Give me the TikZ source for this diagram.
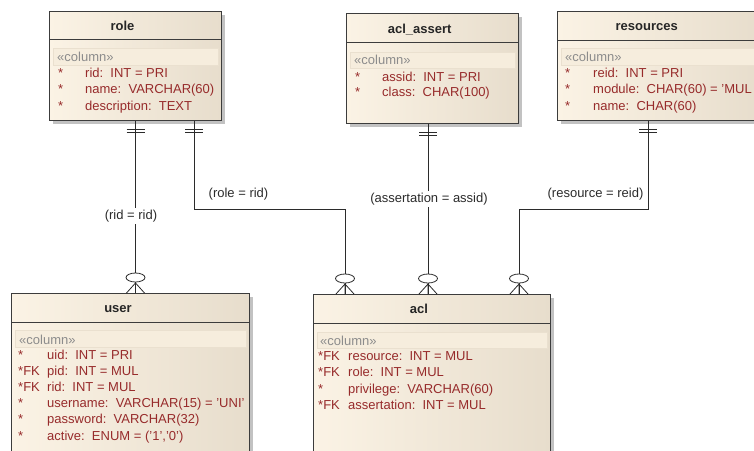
\documentclass[tikz,border=0pt]{standalone}
\usepackage{fontspec}
\setmainfont{Liberation Sans}
\usetikzlibrary{shadows}
\definecolor{boxline}{HTML}{3C3C3C}
\definecolor{creamL}{HTML}{FBF3E5}
\definecolor{creamR}{HTML}{E7DDCC}
\definecolor{bandfill}{HTML}{F6EDDD}
\definecolor{bandline}{HTML}{EAE0CF}
\definecolor{shadowgray}{HTML}{C2C2C2}
\definecolor{fieldred}{HTML}{972B2B}
\definecolor{stereoink}{HTML}{8C8C8C}
\definecolor{titleink}{HTML}{262626}
\definecolor{linkink}{HTML}{2B2B2B}
\begin{document}
\begin{tikzpicture}[x=1pt,y=-1pt,
  erbox/.style={draw=boxline,line width=0.9pt,left color=creamL,right color=creamR,
    anchor=north west,inner sep=0pt,
    drop shadow={shadow xshift=3.5pt,shadow yshift=-3.5pt,fill=shadowgray,opacity=1}},
  sepline/.style={draw=boxline,line width=0.9pt},
  band/.style={fill=bandfill,draw=bandline,line width=0.4pt},
  title/.style={font=\fontsize{13}{15}\selectfont\bfseries,text=titleink,inner sep=0pt,anchor=base},
  stereo/.style={font=\fontsize{13}{15}\selectfont,text=stereoink,anchor=base west,inner sep=0pt},
  field/.style={font=\fontsize{13}{15}\selectfont,text=fieldred,anchor=base west,inner sep=0pt},
  conn/.style={draw=linkink,line width=0.8pt},
  rel/.style={font=\fontsize{13}{15}\selectfont,text=linkink,inner sep=1.5pt},
  erone/.pic={\draw[conn] (-9,8)--(9,8) (-9,11)--(9,11);},
  ermany/.pic={\draw[conn] (0,-10)--(-9,0) (0,-10)--(9,0) (0,-12)--(0,0);
    \filldraw[conn,fill=white] (0,-15.5) ellipse[x radius=9.5pt,y radius=4.5pt];}
]
\useasboundingbox (0,0) rectangle (754,450);
\clip (0,0) rectangle (754,450);

% ---- tables ----
\node[erbox,minimum width=172pt,minimum height=109pt] (role) at (49,11) {};
\node[erbox,minimum width=172pt,minimum height=110pt] (assert) at (346,13) {};
\node[erbox,minimum width=204pt,minimum height=109pt] (resources) at (557,11) {};
\node[erbox,minimum width=238pt,minimum height=190pt] (user) at (11,293) {};
\node[erbox,minimum width=237pt,minimum height=190pt] (acl) at (313,294) {};

% header separators and stereotype bands
\draw[sepline] (role.north west) ++(0,28) -- ++(172,0);
\filldraw[band] (role.north west) ++(4,37) rectangle ++(165,17);
\draw[sepline] (assert.north west) ++(0,29) -- ++(172,0);
\filldraw[band] (assert.north west) ++(4,39) rectangle ++(165,16);
\draw[sepline] (resources.north west) ++(0,29) -- ++(204,0);
\filldraw[band] (resources.north west) ++(4,37) rectangle ++(197,17);
\draw[sepline] (user.north west) ++(0,29) -- ++(238,0);
\filldraw[band] (user.north west) ++(4,37) rectangle ++(231,17);
\draw[sepline] (acl.north west) ++(0,29) -- ++(237,0);
\filldraw[band] (acl.north west) ++(4,38) rectangle ++(230,16);

% ---- role ----
\node[title] (role-t) at (122.5,30) {role};
\node[stereo] (role-c) at (57,61.5) {«column»};
\node[field] (role-s1) at (58,77) {*};
\node[field] (role-f1) at (85,77) {rid:\ \ INT = PRI};
\node[field] (role-s2) at (58,93.5) {*};
\node[field] (role-f2) at (85,93.5) {name:\ \ VARCHAR(60)};
\node[field] (role-s3) at (58,110) {*};
\node[field] (role-f3) at (85,110) {description:\ \ TEXT};

% ---- acl_assert ----
\node[title] (assert-t) at (419.7,33) {acl\_assert};
\node[stereo] (assert-c) at (354,64.5) {«column»};
\node[field] (assert-s1) at (355,81) {*};
\node[field] (assert-f1) at (382,81) {assid:\ \ INT = PRI};
\node[field] (assert-s2) at (355,96.5) {*};
\node[field] (assert-f2) at (382,96.5) {class:\ \ CHAR(100)};

% ---- resources ----
\node[title] (res-t) at (646.7,30) {resources};
\node[stereo] (res-c) at (565,61.5) {«column»};
\node[field] (res-s1) at (565,77) {*};
\node[field] (res-f1) at (593,77) {reid:\ \ INT = PRI};
\node[field] (res-s2) at (565,93.5) {*};
\node[field] (res-f2) at (593,93.5) {module:\ \ CHAR(60) = 'MUL};
\node[field] (res-s3) at (565,110) {*};
\node[field] (res-f3) at (593,110) {name:\ \ CHAR(60)};

% ---- user ----
\node[title] (user-t) at (118,312) {user};
\node[stereo] (user-c) at (19,344) {«column»};
\node[field] (user-s1) at (18,359) {*};
\node[field] (user-f1) at (47,359) {uid:\ \ INT = PRI};
\node[field] (user-s2) at (18,375.2) {*FK};
\node[field] (user-f2) at (47,375.2) {pid:\ \ INT = MUL};
\node[field] (user-s3) at (18,391.4) {*FK};
\node[field] (user-f3) at (47,391.4) {rid:\ \ INT = MUL};
\node[field] (user-s4) at (18,407.6) {*};
\node[field] (user-f4) at (47,407.6) {username:\ \ VARCHAR(15) = 'UNI'};
\node[field] (user-s5) at (18,423.8) {*};
\node[field] (user-f5) at (47,423.8) {password:\ \ VARCHAR(32)};
\node[field] (user-s6) at (18,440) {*};
\node[field] (user-f6) at (47,440) {active:\ \ ENUM = ('1','0')};

% ---- acl ----
\node[title] (acl-t) at (419,313) {acl};
\node[stereo] (acl-c) at (320,345) {«column»};
\node[field] (acl-s1) at (318,360) {*FK};
\node[field] (acl-f1) at (348,360) {resource:\ \ INT = MUL};
\node[field] (acl-s2) at (318,376.5) {*FK};
\node[field] (acl-f2) at (348,376.5) {role:\ \ INT = MUL};
\node[field] (acl-s3) at (318,393) {*};
\node[field] (acl-f3) at (348,393) {privilege:\ \ VARCHAR(60)};
\node[field] (acl-s4) at (318,409.5) {*FK};
\node[field] (acl-f4) at (348,409.5) {assertation:\ \ INT = MUL};

% ---- relationship end points ----
\path (role.south west) ++(86.5,0) coordinate (roleA);
\path (role.south west) ++(145,0) coordinate (roleB);
\path (assert.south west) ++(82,0) coordinate (assertA);
\path (resources.south west) ++(91,0) coordinate (resA);
\path (user.north west) ++(124.5,0) coordinate (userA);
\path (acl.north west) ++(32,0) coordinate (aclA);
\path (acl.north west) ++(115,0) coordinate (aclB);
\path (acl.north west) ++(206,0) coordinate (aclC);

% ---- relationships ----
\draw[conn] (roleA) -- (userA);
\draw[conn] (roleB) -- ++(0,88) -| (aclA);
\draw[conn] (assertA) -- (aclB);
\draw[conn] (resA) -- ++(0,88) -| (aclC);

\node[rel,fill=white] (lbl-rid) at (131,216) {(rid = rid)};
\node[rel] (lbl-role) at (238.5,194) {(role = rid)};
\node[rel,fill=white] (lbl-assert) at (429,199) {(assertation = assid)};
\node[rel] (lbl-res) at (595.5,194) {(resource = reid)};

\pic at (roleA) {erone};
\pic at (roleB) {erone};
\pic at (assertA) {erone};
\pic at (resA) {erone};
\pic at (userA) {ermany};
\pic at (aclA) {ermany};
\pic at (aclB) {ermany};
\pic at (aclC) {ermany};
\end{tikzpicture}
\end{document}
